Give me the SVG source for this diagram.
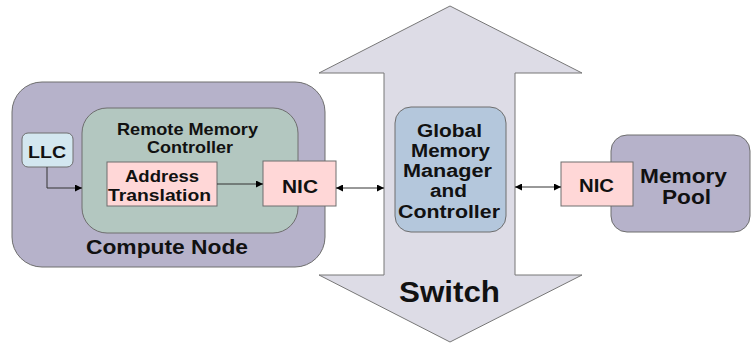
<svg xmlns="http://www.w3.org/2000/svg" width="751" height="343" viewBox="0 0 751 343">
  <defs>
    <marker id="ah" viewBox="0 0 10 10" refX="10" refY="5" markerWidth="7" markerHeight="7" orient="auto-start-reverse" markerUnits="userSpaceOnUse">
      <path d="M0,0 L10,5 L0,10 z" fill="#000"/>
    </marker>
  </defs>
  <style>
    text { font-family: "Liberation Sans", Arial, sans-serif; font-weight: bold; fill: #111; text-anchor: middle; }
    .box { stroke: #6e6e6e; stroke-width: 1; }
    .purple { fill: #b6b2ca; }
    .green { fill: #b3c7c0; }
    .blue { fill: #d3e7f0; }
    .pink { fill: #ffd7d7; }
    .steel { fill: #b4c7dc; }
    .link { stroke: #333; stroke-width: 1; fill: none; }
  </style>

  <!-- switch: double-headed vertical arrow -->
  <g id="switch">
    <path d="M450,6 L582,73 L515,73 L515,275 L582,275 L450,342 L319,275 L384,275 L384,73 L319,73 Z" fill="#dddce6" stroke="#777" stroke-width="1"/>
    <text x="449.5" y="302" font-size="29" textLength="101" lengthAdjust="spacingAndGlyphs">Switch</text>
  </g>

  <g id="compute-node">
    <rect class="box purple" x="12" y="82" width="313" height="185" rx="30"/>
    <text x="167" y="254" font-size="21" textLength="162" lengthAdjust="spacingAndGlyphs">Compute Node</text>
  </g>

  <g id="remote-memory-controller">
    <rect class="box green" x="82" y="108" width="216" height="125" rx="25"/>
    <text x="187.5" y="135" font-size="16.5" textLength="141" lengthAdjust="spacingAndGlyphs">Remote Memory</text>
    <text x="190" y="152.7" font-size="16.5" textLength="86" lengthAdjust="spacingAndGlyphs">Controller</text>
  </g>

  <g id="llc">
    <rect class="box blue" x="22" y="133" width="51" height="34" rx="6"/>
    <text x="47" y="158.3" font-size="16.5" textLength="38" lengthAdjust="spacingAndGlyphs">LLC</text>
  </g>

  <g id="address-translation">
    <rect class="box pink" x="107" y="162" width="110" height="44"/>
    <text x="162" y="182.3" font-size="17" textLength="74" lengthAdjust="spacingAndGlyphs">Address</text>
    <text x="159.5" y="200.7" font-size="17" textLength="103" lengthAdjust="spacingAndGlyphs">Translation</text>
  </g>

  <g id="nic-compute">
    <rect class="box pink" x="263" y="161" width="73" height="45"/>
    <text x="300" y="192.7" font-size="18.6" textLength="36" lengthAdjust="spacingAndGlyphs">NIC</text>
  </g>

  <g id="global-memory-manager">
    <rect class="box steel" x="395" y="107" width="111" height="125" rx="16"/>
    <text x="449.5" y="136.7" font-size="18" textLength="65" lengthAdjust="spacingAndGlyphs">Global</text>
    <text x="450.5" y="156.7" font-size="18" textLength="79" lengthAdjust="spacingAndGlyphs">Memory</text>
    <text x="447.5" y="176.7" font-size="18" textLength="89" lengthAdjust="spacingAndGlyphs">Manager</text>
    <text x="448.5" y="197.3" font-size="18" textLength="37" lengthAdjust="spacingAndGlyphs">and</text>
    <text x="449" y="218.3" font-size="18" textLength="102" lengthAdjust="spacingAndGlyphs">Controller</text>
  </g>

  <g id="memory-pool">
    <rect class="box purple" x="611" y="135" width="139" height="97" rx="16"/>
    <text x="683.5" y="183" font-size="20" textLength="87" lengthAdjust="spacingAndGlyphs">Memory</text>
    <text x="686.5" y="203.5" font-size="20" textLength="49" lengthAdjust="spacingAndGlyphs">Pool</text>
  </g>

  <g id="nic-pool">
    <rect class="box pink" x="561" y="162" width="72" height="44"/>
    <text x="596.5" y="192.3" font-size="18.6" textLength="35" lengthAdjust="spacingAndGlyphs">NIC</text>
  </g>

  <g id="connectors">
    <path class="link" d="M47,167 L47,188 L82,188" marker-end="url(#ah)"/>
    <path class="link" d="M217,184 L263,184" marker-end="url(#ah)"/>
    <path class="link" d="M336,188 L384,188" marker-start="url(#ah)" marker-end="url(#ah)"/>
    <path class="link" d="M515,187 L561,187" marker-start="url(#ah)" marker-end="url(#ah)"/>
  </g>
</svg>
